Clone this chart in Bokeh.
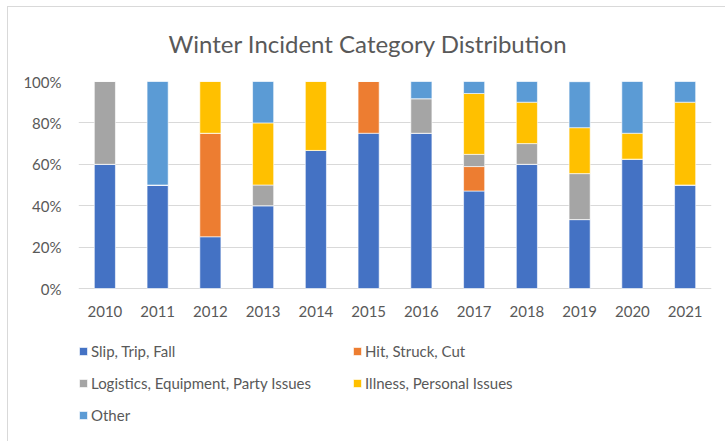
from bokeh.plotting import figure
from bokeh.models import FactorRange, Legend, LegendItem, PrintfTickFormatter, FixedTicker
from bokeh.core.properties import value
from bokeh.embed import file_html
from bokeh.resources import INLINE

years = ["2010", "2011", "2012", "2013", "2014", "2015", "2016", "2017", "2018", "2019", "2020", "2021"]
slip = [60, 50, 25, 40, 66.7, 75, 75, 47.1, 60, 33.3, 62.5, 50]
hit = [0, 0, 50, 0, 0, 25, 0, 11.8, 0, 0, 0, 0]
logistics = [40, 0, 0, 10, 0, 0, 16.7, 5.9, 10, 22.2, 0, 0]
illness = [0, 0, 25, 30, 33.3, 0, 0, 29.4, 20, 22.2, 12.5, 40]
other = [0, 50, 0, 20, 0, 0, 8.3, 5.9, 10, 22.2, 25, 10]

series = ["slip", "hit", "logistics", "illness", "other"]
labels = ["Slip, Trip, Fall", "Hit, Struck, Cut", "Logistics, Equipment, Party Issues",
          "Illness, Personal Issues", "Other"]
colors = ["#4472C4", "#ED7D31", "#A5A5A5", "#FFC000", "#5B9BD5"]
y_ticks = [0, 20, 40, 60, 80, 100]

data = dict(years=years, slip=slip, hit=hit, logistics=logistics, illness=illness, other=other)

FONT = "Lato"
TXT = "#595959"
BORDER = "#d9d9d9"

# plot area: 0% at 207 px below 100%; frame extended downward to hold the legend
FRAME_H = 360
PX_PER_UNIT = 2.07
y_start = 100 - FRAME_H / PX_PER_UNIT

p = figure(x_range=FactorRange(*years, range_padding=0), y_range=(y_start, 100),
           frame_width=633, frame_height=FRAME_H, output_backend="svg", toolbar_location=None,
           x_axis_location=None,
           min_border_left=78, min_border_right=14, min_border_top=81, min_border_bottom=0)
p.border_fill_alpha = 0
p.background_fill_color = "white"
p.styles = {"background": (f"linear-gradient({BORDER},{BORDER}) 7px 6px / 1px 100% no-repeat, "
                           f"linear-gradient({BORDER},{BORDER}) 7px 6px / 100% 1px no-repeat, white")}

renderers = p.vbar_stack(series, x="years", width=0.4, color=colors, source=data,
                         line_color="white", line_width=0.6)

# category labels under the 0% line
p.text(x=years, y=0, text=years, text_align="center", text_baseline="middle", y_offset=23,
       text_font=value(FONT), text_font_size=value("15px"), text_color=TXT)

p.title.text = "Winter Incident Category Distribution"
p.title.text_font = FONT
p.title.text_font_size = "24px"
p.title.text_font_style = "normal"
p.title.text_color = TXT
p.title.align = "left"
p.title.offset = 90
p.title.standoff = 48

p.yaxis.ticker = FixedTicker(ticks=y_ticks)
p.yaxis.formatter = PrintfTickFormatter(format="%d%%")
p.yaxis.axis_line_color = None
p.yaxis.major_label_standoff = 17
p.yaxis.major_tick_line_color = None
p.yaxis.minor_tick_line_color = None
p.yaxis.major_tick_out = 0
p.yaxis.major_tick_in = 0
p.yaxis.minor_tick_out = 0
p.yaxis.major_label_text_font = FONT
p.yaxis.major_label_text_font_size = "15px"
p.yaxis.major_label_text_color = TXT

p.xgrid.grid_line_color = None
p.ygrid.grid_line_color = BORDER
p.ygrid.ticker = FixedTicker(ticks=y_ticks)
p.outline_line_color = None

def make_legend(idx, loc):
    lg = Legend(items=[LegendItem(label=labels[i], renderers=[renderers[i]]) for i in idx],
                location=loc, orientation="vertical", padding=0, margin=0,
                glyph_width=10, glyph_height=10, label_height=20, spacing=12,
                label_standoff=3, border_line_color=None, background_fill_alpha=0,
                label_text_font=FONT, label_text_font_size="15px", label_text_color=TXT)
    p.add_layout(lg, "center")

make_legend([0, 2, 4], (0, 16))
make_legend([1, 3], (274, 48))

open("out.html", "w").write(file_html(p, INLINE))
